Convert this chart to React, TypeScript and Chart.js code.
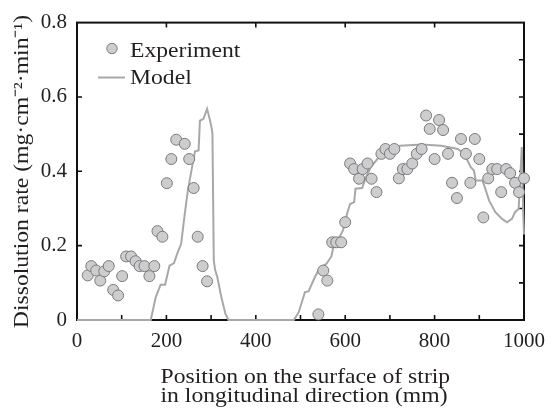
import React, { useEffect, useRef } from "react";
import { Chart, registerables } from "chart.js";

Chart.register(...registerables);

// ---- data ----
const expX = [24, 32, 43, 52, 61, 71, 81, 92, 101, 110, 121, 131, 140, 151, 162, 173, 180, 191, 201, 211, 222, 241, 251, 261, 270, 281, 291,
  540, 551, 560, 571, 580, 591, 600, 611, 620, 631, 639, 650, 659, 670, 681, 690, 700, 710, 720, 729, 739, 750, 760, 771, 781, 789, 800, 810, 819, 830, 839, 850, 859, 870, 880, 890, 900, 909, 920, 929, 940, 949, 960, 969, 980, 989, 1000];
const expY = [0.120, 0.145, 0.133, 0.106, 0.131, 0.145, 0.081, 0.066, 0.118, 0.171, 0.171, 0.158, 0.145, 0.145, 0.118, 0.145, 0.239, 0.224, 0.368, 0.433, 0.485, 0.474, 0.433, 0.355, 0.224, 0.145, 0.104,
  0.015, 0.133, 0.106, 0.209, 0.209, 0.209, 0.263, 0.421, 0.406, 0.380, 0.406, 0.421, 0.380, 0.344, 0.447, 0.460, 0.447, 0.460, 0.381, 0.406, 0.406, 0.421, 0.447, 0.460, 0.550, 0.514, 0.433, 0.538, 0.511, 0.447, 0.369, 0.328, 0.487, 0.447, 0.369, 0.487, 0.433, 0.276, 0.381, 0.406, 0.406, 0.344, 0.406, 0.395, 0.369, 0.344, 0.381];

const modelX = [0, 165, 176, 187, 197, 207, 217, 224, 233, 241, 248, 256, 264, 272, 275, 283, 291, 296, 301, 303, 306, 309, 314, 323, 332, 339,
  485, 496, 510, 518, 532, 542, 558, 569, 576, 587, 595, 605, 611, 620, 623, 638, 645, 657, 672, 694, 712, 723, 771, 815, 852, 866, 881, 888, 892, 907, 911, 922, 936, 951, 962, 973, 980, 988, 991, 995, 998, 1000];
const modelY = [0, 0, 0.061, 0.095, 0.095, 0.146, 0.153, 0.178, 0.205, 0.285, 0.348, 0.402, 0.454, 0.456, 0.536, 0.541, 0.568, 0.545, 0.518, 0.50, 0.16, 0.135, 0.115, 0.061, 0.017, 0,
  0, 0.021, 0.075, 0.077, 0.115, 0.138, 0.151, 0.171, 0.209, 0.223, 0.241, 0.29, 0.312, 0.317, 0.353, 0.355, 0.38, 0.411, 0.433, 0.456, 0.465, 0.469, 0.472, 0.469, 0.460, 0.447, 0.411, 0.402, 0.375, 0.375, 0.362, 0.321, 0.290, 0.272, 0.263, 0.272, 0.290, 0.299, 0.366, 0.465, 0.30, 0.23];

const xMin = 0, xMax = 1000, xStep = 200;
const yMin = 0, yMax = 0.8, yStep = 0.2;
const xMinorBottom = [100, 200, 300, 400, 500, 600, 700, 800, 900];
const xMinorTop = [200, 400, 600, 800];
const yMinorLeft = [0.2, 0.4, 0.6];
const yMinorRight = [0.1, 0.2, 0.3, 0.4, 0.5, 0.6, 0.7];
const seriesNames = ["Experiment", "Model"];
const yTitle = "Dissolution rate (mg·cm⁻²·min⁻¹)";
const xTitleLines = ["Position on the surface of strip", "in longitudinal direction (mm)"];

const FONT = "'Liberation Serif', 'Times New Roman', serif";
const TEXT = "#231f20";
const MARK_FILL = "#cdcdcf";
const MARK_STROKE = "#7a7a7a";
const LINE = "#a8a8aa";
const WIDE = 1.1;

function wideText(ctx: CanvasRenderingContext2D, t: string, x: number, y: number) {
  ctx.save();
  ctx.translate(x, y);
  ctx.scale(WIDE, 1);
  ctx.fillText(t, 0, 0);
  ctx.restore();
}

const decor = {
  id: "decor",
  beforeDatasetsDraw(chart: any) {
    const { ctx, chartArea: a, scales } = chart;
    const xs = scales.x, ys = scales.y;
    ctx.save();
    ctx.strokeStyle = "#111";
    ctx.lineWidth = 2;
    ctx.strokeRect(a.left, a.top, a.right - a.left, a.bottom - a.top);
    const L = 5;
    ctx.lineWidth = 1.6;
    ctx.beginPath();
    xMinorBottom.forEach((v) => { const p = xs.getPixelForValue(v); ctx.moveTo(p, a.bottom); ctx.lineTo(p, a.bottom - L); });
    xMinorTop.forEach((v) => { const p = xs.getPixelForValue(v); ctx.moveTo(p, a.top); ctx.lineTo(p, a.top + L); });
    yMinorLeft.forEach((v) => { const p = ys.getPixelForValue(v); ctx.moveTo(a.left, p); ctx.lineTo(a.left + L, p); });
    yMinorRight.forEach((v) => { const p = ys.getPixelForValue(v); ctx.moveTo(a.right, p); ctx.lineTo(a.right - L, p); });
    ctx.stroke();
    ctx.restore();
  },
  afterDraw(chart: any) {
    const { ctx } = chart;
    ctx.save();
    ctx.textBaseline = "alphabetic";
    ctx.textAlign = "left";
    // legend
    ctx.beginPath();
    ctx.arc(112, 48.5, 5.2, 0, Math.PI * 2);
    ctx.fillStyle = MARK_FILL;
    ctx.fill();
    ctx.strokeStyle = MARK_STROKE;
    ctx.lineWidth = 1;
    ctx.stroke();
    ctx.beginPath();
    ctx.moveTo(98, 77.5);
    ctx.lineTo(125, 77.5);
    ctx.strokeStyle = LINE;
    ctx.lineWidth = 2;
    ctx.stroke();
    ctx.fillStyle = TEXT;
    ctx.font = `21.5px ${FONT}`;
    wideText(ctx, seriesNames[0], 130, 56.7);
    wideText(ctx, seriesNames[1], 130, 84);
    // x title
    wideText(ctx, xTitleLines[0], 160.5, 383);
    wideText(ctx, xTitleLines[1], 160.5, 401.5);
    // y title
    ctx.translate(28.3, 171.5);
    ctx.rotate(-Math.PI / 2);
    ctx.scale(WIDE, 1);
    ctx.textAlign = "center";
    ctx.fillText(yTitle, 0, 0);
    ctx.restore();
  },
};

export default function App() {
  const ref = useRef<HTMLCanvasElement>(null);
  useEffect(() => {
    document.body.style.margin = "0";
    const canvas = ref.current!;
    const chart = new Chart(canvas, {
      type: "scatter",
      data: {
        datasets: [
          {
            label: seriesNames[1],
            type: "line",
            data: modelX.map((x, i) => ({ x, y: modelY[i] })),
            borderColor: LINE,
            borderWidth: 2,
            pointRadius: 0,
            tension: 0,
            fill: false,
            clip: 6,
            order: 2,
          } as any,
          {
            label: seriesNames[0],
            data: expX.map((x, i) => ({ x, y: expY[i] })),
            backgroundColor: MARK_FILL,
            borderColor: MARK_STROKE,
            borderWidth: 1,
            pointRadius: 5.5,
            clip: 8,
            order: 1,
          } as any,
        ],
      },
      options: {
        responsive: false,
        animation: false,
        devicePixelRatio: 1,
        layout: { padding: { top: 22, right: 23, left: 0, bottom: 0 } },
        plugins: { legend: { display: false }, tooltip: { enabled: false } },
        scales: {
          x: {
            type: "linear",
            min: xMin,
            max: xMax,
            ticks: { stepSize: xStep, font: { family: FONT, size: 21 }, color: TEXT, padding: 9, maxRotation: 0, callback: (v: any) => String(v) },
            grid: { display: false, drawTicks: false },
            border: { display: false },
            afterFit: (s: any) => { s.height = 90; },
          },
          y: {
            type: "linear",
            min: yMin,
            max: yMax,
            ticks: { stepSize: yStep, font: { family: FONT, size: 21 }, color: TEXT, padding: 10, callback: (v: any) => String(Math.round(v * 10) / 10) },
            grid: { display: false, drawTicks: false },
            border: { display: false },
            afterFit: (s: any) => { s.width = 77; },
          },
        },
      },
      plugins: [decor],
    });
    return () => chart.destroy();
  }, []);
  return <canvas ref={ref} width={554} height={410} style={{ display: "block", width: 554, height: 410 }} />;
}
